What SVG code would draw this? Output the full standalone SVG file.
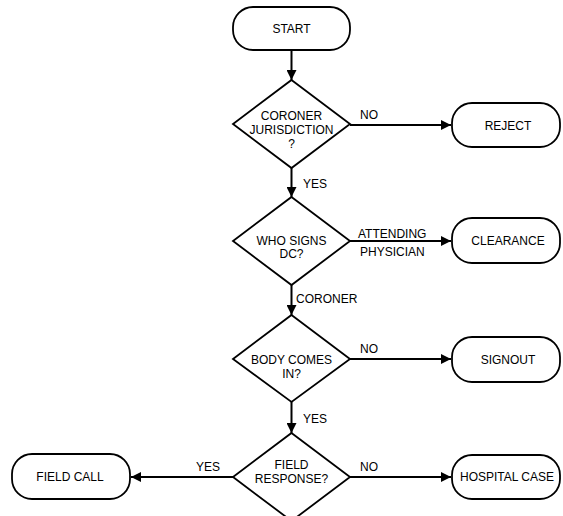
<svg xmlns="http://www.w3.org/2000/svg" width="563" height="516" viewBox="0 0 563 516">
  <style>
    .shape { fill: #ffffff; stroke: #000000; stroke-width: 1.8; }
    .link { fill: none; stroke: #000000; stroke-width: 2; }
    text { font-family: "Liberation Sans", Arial, sans-serif; font-size: 12px; fill: #000000; }
    .c { text-anchor: middle; }
  </style>
  <defs>
    <marker id="arrow" viewBox="0 0 10 10" refX="10" refY="5" markerWidth="10" markerHeight="10" markerUnits="userSpaceOnUse" orient="auto">
      <path d="M0,0 L10,5 L0,10 z" fill="#000000"/>
    </marker>
  </defs>

  <g id="connectors">
    <line class="link" x1="291.5" y1="50" x2="291.5" y2="80" marker-end="url(#arrow)"/>
    <line class="link" x1="350" y1="125" x2="451" y2="125" marker-end="url(#arrow)"/>
    <text x="360" y="119">NO</text>
    <line class="link" x1="291.5" y1="168" x2="291.5" y2="197" marker-end="url(#arrow)"/>
    <text x="303" y="188">YES</text>
    <line class="link" x1="350" y1="241" x2="451" y2="241" marker-end="url(#arrow)"/>
    <text x="358" y="238">ATTENDING</text>
    <text x="360" y="256">PHYSICIAN</text>
    <line class="link" x1="291.5" y1="285" x2="291.5" y2="315" marker-end="url(#arrow)"/>
    <text x="296" y="303">CORONER</text>
    <line class="link" x1="350" y1="359" x2="451" y2="359" marker-end="url(#arrow)"/>
    <text x="360" y="353">NO</text>
    <line class="link" x1="291.5" y1="402" x2="291.5" y2="433" marker-end="url(#arrow)"/>
    <text x="303" y="423">YES</text>
    <line class="link" x1="233" y1="477" x2="131" y2="477" marker-end="url(#arrow)"/>
    <text x="196" y="471">YES</text>
    <line class="link" x1="350" y1="477" x2="451" y2="477" marker-end="url(#arrow)"/>
    <text x="360" y="471">NO</text>
  </g>

  <g id="start">
    <rect class="shape" x="233" y="7" width="117" height="43" rx="20" ry="20"/>
    <text class="c" x="291.5" y="33">START</text>
  </g>

  <g id="jurisdiction">
    <polygon class="shape" points="291.5,80 350,124 291.5,168 233,124"/>
    <text class="c" x="291.5" y="120">CORONER</text>
    <text class="c" x="291.5" y="134">JURISDICTION</text>
    <text class="c" x="291.5" y="148">?</text>
  </g>

  <g id="reject">
    <rect class="shape" x="452" y="103" width="108" height="44" rx="20" ry="20"/>
    <text class="c" x="508" y="130">REJECT</text>
  </g>

  <g id="who-signs">
    <polygon class="shape" points="291.5,197 350,241 291.5,285 233,241"/>
    <text class="c" x="291.5" y="245">WHO SIGNS</text>
    <text class="c" x="291.5" y="258">DC?</text>
  </g>

  <g id="clearance">
    <rect class="shape" x="452" y="218" width="108" height="45" rx="20" ry="20"/>
    <text class="c" x="508" y="245">CLEARANCE</text>
  </g>

  <g id="body-comes-in">
    <polygon class="shape" points="291.5,315 350,359 291.5,402 233,359"/>
    <text class="c" x="291.5" y="364">BODY COMES</text>
    <text class="c" x="291.5" y="378">IN?</text>
  </g>

  <g id="signout">
    <rect class="shape" x="452" y="337" width="108" height="45" rx="20" ry="20"/>
    <text class="c" x="508" y="364">SIGNOUT</text>
  </g>

  <g id="field-response">
    <polygon class="shape" points="291.5,433 350,477 291.5,521 233,477"/>
    <text class="c" x="291.5" y="469">FIELD</text>
    <text class="c" x="291.5" y="483">RESPONSE?</text>
  </g>

  <g id="field-call">
    <rect class="shape" x="12" y="454" width="118" height="45" rx="20" ry="20"/>
    <text class="c" x="70" y="481">FIELD CALL</text>
  </g>

  <g id="hospital-case">
    <rect class="shape" x="452" y="455" width="108" height="44" rx="20" ry="20"/>
    <text class="c" x="507" y="481">HOSPITAL CASE</text>
  </g>
</svg>
